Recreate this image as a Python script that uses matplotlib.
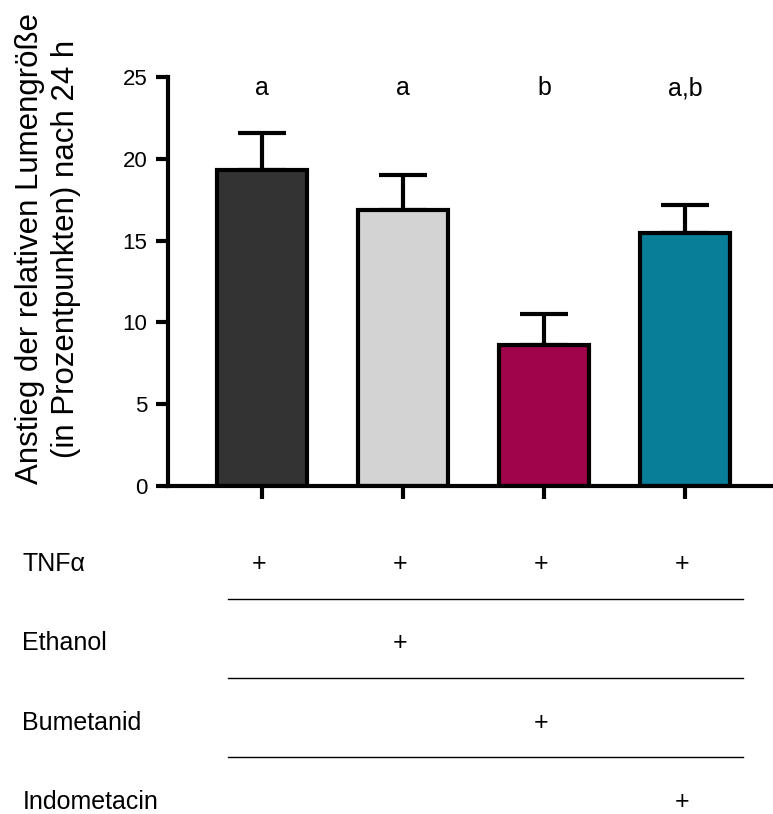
import matplotlib
matplotlib.use("Agg")
import matplotlib.pyplot as plt

plt.rcParams['font.family'] = ['Liberation Sans', 'DejaVu Sans']

# data
groups = ['TNF', 'TNF+Ethanol', 'TNF+Bumetanid', 'TNF+Indometacin']
means = [19.3, 16.85, 8.65, 15.45]
sems = [2.25, 2.15, 1.85, 1.7]
letters = ['a', 'a', 'b', 'a,b']
colours = ['#333333', '#d3d3d3', '#a0044a', '#087e98']

row_labels = ['TNF\u03b1', 'Ethanol', 'Bumetanid', 'Indometacin']
treatment = [
    [1, 1, 1, 1],
    [0, 1, 0, 0],
    [0, 0, 1, 0],
    [0, 0, 0, 1],
]

yticks = [0, 5, 10, 15, 20, 25]

fig = plt.figure(figsize=(7.73, 8.14), dpi=100)
ax = fig.add_axes([0.2173, 0.4029, 0.7827, 0.5025])

x = list(range(len(groups)))
ax.bar(x, means, width=0.64, color=colours, edgecolor='black', linewidth=3, zorder=2)
ax.errorbar(x, means, yerr=[[0] * len(sems), sems], fmt='none', ecolor='black',
            elinewidth=3, capsize=17, capthick=3, zorder=1)

for xi, lab in zip(x, letters):
    ax.text(xi, 24.3, lab, ha='center', va='center', fontsize=18)

ax.set_xlim(-0.667, 3.624)
ax.set_ylim(0, 25)
ax.set_yticks(yticks)
ax.set_yticklabels([str(t) for t in yticks], fontsize=16)
ax.set_xticks(x)
ax.set_xticklabels([])
for side in ('top', 'right'):
    ax.spines[side].set_visible(False)
for side in ('left', 'bottom'):
    ax.spines[side].set_linewidth(3)
ax.tick_params(axis='y', width=3, length=9, pad=6)
ax.tick_params(axis='x', width=3, length=9)

ax.set_ylabel('Anstieg der relativen Lumengröße\n(in Prozentpunkten) nach 24 h',
              fontsize=22.5, linespacing=1.3)
ax.yaxis.set_label_coords(-0.143, 0.58)

# treatment table below the bars
tab = fig.add_axes([0.2173, 0.0, 0.7827, 0.3366], sharex=ax)
tab.set_ylim(3.153, -0.303)
tab.axis('off')
for i, (name, row) in enumerate(zip(row_labels, treatment)):
    tab.text(-1.70, i, name, ha='left', va='center', fontsize=18, clip_on=False)
    for xi, flag in zip(x, row):
        if flag:
            tab.text(xi - 0.02, i, '+', ha='center', va='center', fontsize=18)
    if i < len(row_labels) - 1:
        tab.plot([-0.24, 3.41], [i + 0.44, i + 0.44], color='black', linewidth=1)

fig.savefig('out.png', dpi=100)
